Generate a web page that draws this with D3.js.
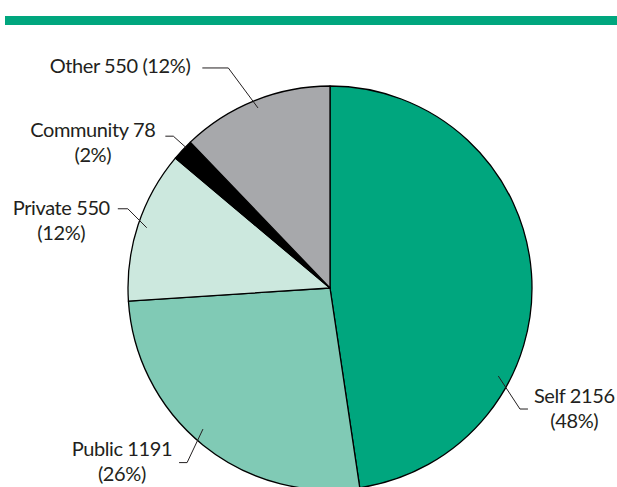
<!DOCTYPE html>
<html>
<head>
<meta charset="utf-8">
<script src="https://cdn.jsdelivr.net/npm/d3@7"></script>
<style>
  html, body { margin: 0; padding: 0; background: #fff; }
  svg { display: block; }
  text { font-family: Lato, "Liberation Sans", sans-serif; fill: #231f20; letter-spacing: -0.4px; }
</style>
</head>
<body>
<svg id="chart" width="617" height="487"></svg>
<script>
// Provider categories and counts
const categories = ["Self", "Public", "Private", "Community", "Other"];
const counts = [2156, 1191, 550, 78, 550];
const percents = [48, 26, 12, 2, 12];
const sliceColors = ["#00a67e", "#80cab5", "#cce8de", "#000000", "#a7a8ab"];

// Label layout: leader angles (degrees, clockwise from top), radial factors,
// horizontal tail length, side, gap to text and baseline shift of the first line
const labelLayout = [
  { innerA: 117.6, innerF: 0.94, elbowA: 122.5, elbowF: 1.115, tail: 8,  side: "right", gap: 6, dy: -6, twoLine: true },
  { innerA: 222.0, innerF: 0.94, elbowA: 219.3, elbowF: 1.117, tail: 8,  side: "left",  gap: 7, dy: -7, twoLine: true },
  { innerA: 288.2, innerF: 0.955, elbowA: 291.4, elbowF: 1.075, tail: 10, side: "left",  gap: 8, dy: 6,  twoLine: true },
  { innerA: 314.3, innerF: 0.995, elbowA: 314.1, elbowF: 1.08, tail: 8,  side: "left",  gap: 10, dy: 1,  twoLine: true },
  { innerA: 338.2, innerF: 0.96, elbowA: 335.2, elbowF: 1.2,  tail: 26, side: "left",  gap: 12, dy: 5,  twoLine: false }
];

const svg = d3.select("#chart");
const cx = 330, cy = 288, radius = 202;

// Header rule
svg.append("rect")
  .attr("x", 5).attr("y", 16)
  .attr("width", 612).attr("height", 9)
  .attr("fill", "#00a67e");

const data = categories.map((c, i) => ({ name: c, value: counts[i], pct: percents[i], color: sliceColors[i], layout: labelLayout[i] }));

const pie = d3.pie().value(d => d.value).sort(null);
const arc = d3.arc().innerRadius(0).outerRadius(radius);

const g = svg.append("g").attr("transform", `translate(${cx},${cy})`);

g.selectAll("path.slice")
  .data(pie(data))
  .join("path")
  .attr("class", "slice")
  .attr("d", arc)
  .attr("fill", d => d.data.color)
  .attr("stroke", "#000")
  .attr("stroke-width", 1.3)
  .attr("stroke-linejoin", "round");

// Polar to cartesian (angle clockwise from 12 o'clock)
const pt = (deg, r) => {
  const a = deg * Math.PI / 180;
  return [Math.sin(a) * r, -Math.cos(a) * r];
};

const labels = g.append("g").attr("class", "labels");

data.forEach(d => {
  const L = d.layout;
  const p0 = pt(L.innerA, radius * L.innerF);
  const p1 = pt(L.elbowA, radius * L.elbowF);
  const dir = L.side === "right" ? 1 : -1;
  const p2 = [p1[0] + dir * L.tail, p1[1]];

  labels.append("path")
    .attr("d", d3.line()([p0, p1, p2]))
    .attr("fill", "none")
    .attr("stroke", "#231f20")
    .attr("stroke-width", 1);

  const x = p2[0] + dir * L.gap;
  const y = p2[1] + L.dy;
  const first = L.twoLine ? `${d.name} ${d.value}` : `${d.name} ${d.value} (${d.pct}%)`;

  const t1 = labels.append("text")
    .attr("x", x).attr("y", y)
    .attr("font-size", 20)
    .attr("text-anchor", L.side === "right" ? "start" : "end")
    .text(first);

  if (L.twoLine) {
    const w = t1.node().getComputedTextLength();
    const mid = L.side === "right" ? x + w / 2 : x - w / 2;
    labels.append("text")
      .attr("x", mid).attr("y", y + 25)
      .attr("font-size", 20)
      .attr("text-anchor", "middle")
      .text(`(${d.pct}%)`);
  }
});
</script>
</body>
</html>
